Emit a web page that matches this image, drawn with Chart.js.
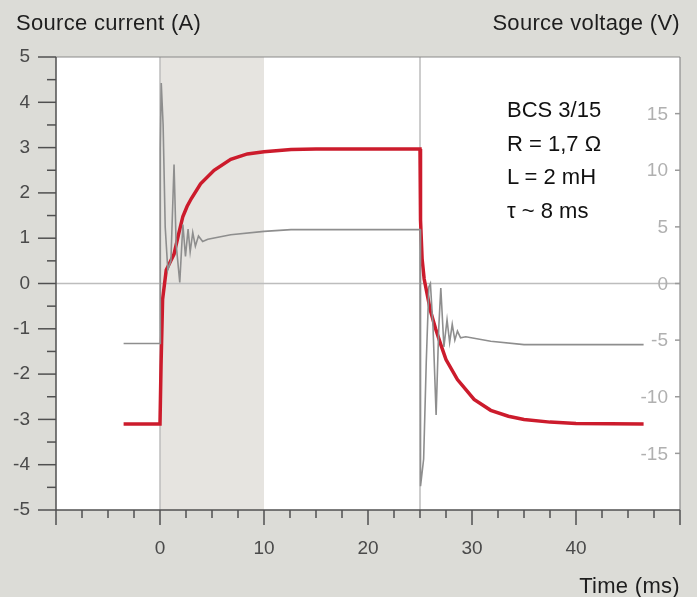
<!DOCTYPE html>
<html lang="en">
  <head>
    <meta charset="UTF-8" />
    <title>Source current and voltage</title>
    <script src="https://cdn.jsdelivr.net/npm/chart.js"></script>
    <style>
      body {
        margin: 0;
        background-color: #dcdcd7;
        font-family: 'Liberation Sans', Arial, sans-serif;
      }
      .wrap {
        position: relative;
        width: 697px;
        height: 597px;
      }
      .label {
        position: absolute;
        font-size: 22px;
        color: #1e1e1e;
        letter-spacing: 0.3px;
        white-space: nowrap;
        line-height: 1;
      }
      .note {
        position: absolute;
        left: 507px;
        top: 93px;
        font-size: 22px;
        line-height: 33.5px;
        color: #111;
      }
    </style>
  </head>
  <body>
    <div class="wrap">
      <canvas id="chart"></canvas>
      <div class="label" style="left: 16px; top: 12px">Source current (A)</div>
      <div class="label" style="right: 17px; top: 12px">Source voltage (V)</div>
      <div class="label" style="right: 17px; top: 575px">Time (ms)</div>
      <div class="note">BCS 3/15<br />R = 1,7 Ω<br />L = 2 mH<br />τ ~ 8 ms</div>
    </div>

    <script>
      // источник тока (A)
      const currentTime = [-3.5, 0, 0.1, 0.25, 0.6, 1.35, 1.8, 2.2, 2.6, 3.0, 3.9, 5.2, 6.8, 8.4, 10, 12.6, 15, 20, 25, 25.05, 25.2, 25.4, 26.0, 26.5, 27.0, 27.5, 28.6, 30.2, 31.8, 33.5, 35, 37.5, 40, 46.5]
      const currentValues = [-3.1, -3.1, -1.8, -0.35, 0.3, 0.65, 1.1, 1.48, 1.7, 1.87, 2.2, 2.5, 2.74, 2.86, 2.91, 2.96, 2.97, 2.97, 2.97, 1.4, 0.55, 0.1, -0.6, -1.0, -1.35, -1.68, -2.12, -2.56, -2.8, -2.93, -3.0, -3.06, -3.09, -3.1]

      // напряжение источника (V)
      const voltageTime = [-3.5, 0, 0.03, 0.12, 0.3, 0.5, 0.75, 1.05, 1.35, 1.55, 1.9, 2.2, 2.45, 2.7, 2.9, 3.15, 3.4, 3.7, 4.1, 4.6, 6.8, 10, 12.6, 25, 25.02, 25.08, 25.35, 25.6, 25.85, 26.0, 26.25, 26.55, 26.8, 27.0, 27.3, 27.6, 27.85, 28.1, 28.35, 28.6, 28.9, 29.4, 31.8, 35, 37.5, 46.5]
      const voltageValues = [-5.3, -5.3, 12, 17.7, 14, 5, 1.2, 2, 10.5, 3.5, 0.1, 5.2, 2.4, 4.8, 2.8, 4.5, 3.3, 4.2, 3.7, 3.9, 4.3, 4.6, 4.76, 4.76, -5, -17.9, -15.5, -7, -0.3, 0, -3.8, -11.6, -4, -0.4, -5.6, -3.2, -5.2, -3.6, -5.0, -4.2, -4.8, -4.7, -5.1, -5.4, -5.4, -5.4]

      const timeLabels = [0, 10, 20, 30, 40]
      const voltageLabels = [15, 10, 5, 0, -5, -10, -15]
      const bandStart = 0
      const bandEnd = 10
      const markerTimes = [0, 25]

      const toPoints = (xs, ys) => xs.map((x, i) => ({ x: x, y: ys[i] }))

      function line(ctx, x1, y1, x2, y2) {
        ctx.beginPath()
        ctx.moveTo(x1, y1)
        ctx.lineTo(x2, y2)
        ctx.stroke()
      }

      // фон, полоса, рамка и засечки
      const framePlugin = {
        id: 'framePlugin',
        beforeDraw(chart) {
          const { ctx, chartArea: a, scales } = chart
          const x = scales.x
          const y = scales.y
          ctx.save()
          ctx.fillStyle = '#ffffff'
          ctx.fillRect(a.left, a.top, a.right - a.left, a.bottom - a.top)
          const b0 = x.getPixelForValue(bandStart)
          const b1 = x.getPixelForValue(bandEnd)
          ctx.fillStyle = '#e6e4e0'
          ctx.fillRect(b0, a.top, b1 - b0, a.bottom - a.top)
          ctx.strokeStyle = '#bdbdbd'
          ctx.lineWidth = 1.5
          markerTimes.forEach((t) => {
            const px = x.getPixelForValue(t)
            line(ctx, px, a.top, px, a.bottom)
          })
          const py = y.getPixelForValue(0)
          line(ctx, a.left, py, a.right, py)
          ctx.restore()
        },
        afterDraw(chart) {
          const { ctx, chartArea: a, scales } = chart
          const x = scales.x
          const y = scales.y
          const y2 = scales.y2
          ctx.save()
          // верх и право
          ctx.strokeStyle = '#8a8a8a'
          ctx.lineWidth = 1.2
          line(ctx, a.left, a.top, a.right, a.top)
          line(ctx, a.right, a.top, a.right, a.bottom)
          // левая и нижняя оси
          ctx.strokeStyle = '#505050'
          ctx.lineWidth = 1.5
          line(ctx, a.left, a.top, a.left, a.bottom)
          line(ctx, a.left, a.bottom, a.right, a.bottom)
          y.ticks.forEach((t) => {
            const py = y.getPixelForValue(t.value)
            const len = Number.isInteger(t.value) ? 18 : 9
            line(ctx, a.left - len, py, a.left, py)
          })
          x.ticks.forEach((t) => {
            const px = x.getPixelForValue(t.value)
            const len = t.value % 10 === 0 ? 15 : 8
            line(ctx, px, a.bottom, px, a.bottom + len)
          })
          // правая ось напряжения (внутри)
          ctx.strokeStyle = '#9a9a9a'
          ctx.lineWidth = 1.5
          ctx.fillStyle = '#b0b0b0'
          ctx.font = '19px "Liberation Sans", Arial, sans-serif'
          ctx.textAlign = 'right'
          ctx.textBaseline = 'middle'
          voltageLabels.forEach((v) => {
            const py = y2.getPixelForValue(v)
            line(ctx, a.right - 5, py, a.right, py)
            ctx.fillText(String(v), a.right - 12, py + 1)
          })
          ctx.restore()
        },
      }

      Chart.defaults.font.family = '"Liberation Sans", Arial, sans-serif'
      Chart.defaults.font.size = 19
      Chart.defaults.color = '#4a4a4a'

      const canvas = document.getElementById('chart')
      new Chart(canvas, {
        type: 'line',
        data: {
          datasets: [
            {
              label: 'Source voltage (V)',
              data: toPoints(voltageTime, voltageValues),
              yAxisID: 'y2',
              borderColor: '#8e8e8e',
              borderWidth: 1.6,
              pointRadius: 0,
              tension: 0,
            },
            {
              label: 'Source current (A)',
              data: toPoints(currentTime, currentValues),
              yAxisID: 'y',
              borderColor: '#cc1b2c',
              borderWidth: 3.5,
              pointRadius: 0,
              tension: 0,
            },
          ],
        },
        options: {
          responsive: true,
          maintainAspectRatio: false,
          animation: false,
          layout: { padding: { top: 57, left: 0, right: 0, bottom: 0 } },
          plugins: { legend: { display: false }, tooltip: { enabled: false } },
          scales: {
            x: {
              type: 'linear',
              min: -10,
              max: 50,
              afterFit: (s) => {
                s.height = 87
                s.paddingLeft = 0
                s.paddingRight = 0
              },
              grid: { display: false, drawTicks: false },
              border: { display: false },
              ticks: {
                stepSize: 2.5,
                autoSkip: false,
                maxRotation: 0,
                padding: 27,
                callback: (v) => (timeLabels.includes(v) ? String(v) : ''),
              },
            },
            y: {
              position: 'left',
              min: -5,
              max: 5,
              afterFit: (s) => {
                s.width = 56
              },
              grid: { display: false, drawTicks: false },
              border: { display: false },
              ticks: {
                stepSize: 0.5,
                autoSkip: false,
                padding: 26,
                callback: (v) => (Number.isInteger(v) ? String(v) : ''),
              },
            },
            y2: {
              position: 'right',
              min: -20,
              max: 20,
              afterFit: (s) => {
                s.width = 17
              },
              grid: { display: false, drawTicks: false },
              border: { display: false },
              ticks: { stepSize: 5, display: false },
            },
          },
        },
        plugins: [framePlugin],
      })
    </script>
  </body>
</html>
